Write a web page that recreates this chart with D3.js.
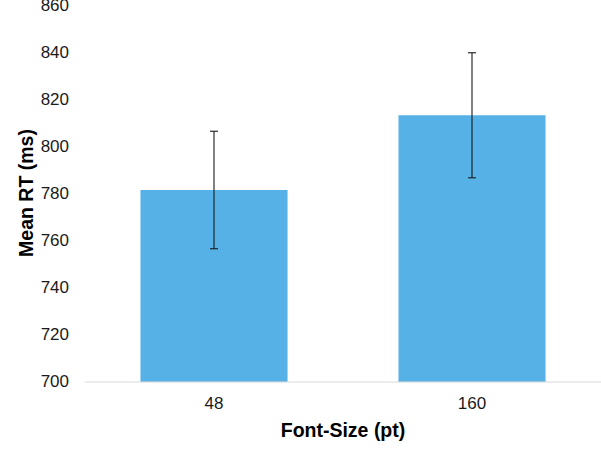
<!DOCTYPE html>
<html>
<head>
<meta charset="utf-8">
<script src="https://cdn.jsdelivr.net/npm/d3@7"></script>
<style>
  html, body { margin: 0; padding: 0; background: #fff; }
  svg { display: block; font-family: "Liberation Sans", Arial, sans-serif; }
</style>
</head>
<body>
<svg id="chart" width="601" height="464"></svg>
<script>
const categories = ["48", "160"];
const meanRT = [781.7, 813.5];
const errorRT = [25.0, 26.6];
const yTicks = [700, 720, 740, 760, 780, 800, 820, 840, 860];

(function () {
const svg = d3.select("#chart");
const plotLeft = 85, plotRight = 601, plotTop = 6, plotBottom = 382;

const x = d3.scaleBand().domain(categories).range([plotLeft, plotRight])
  .paddingInner(0.43).paddingOuter(0.215);
const y = d3.scaleLinear().domain([700, 860]).range([plotBottom, plotTop]);

// bars
svg.selectAll("rect.bar").data(categories).enter().append("rect")
  .attr("class", "bar")
  .attr("x", d => x(d))
  .attr("width", x.bandwidth())
  .attr("y", (d, i) => y(meanRT[i]))
  .attr("height", (d, i) => y(700) - y(meanRT[i]))
  .attr("fill", "#56B1E6");

// x axis line
svg.append("line")
  .attr("x1", plotLeft).attr("x2", plotRight)
  .attr("y1", y(700)).attr("y2", y(700))
  .attr("stroke", "#d9d9d9").attr("stroke-width", 1.2);

// error bars
const eb = svg.selectAll("g.err").data(categories).enter().append("g").attr("class", "err");
eb.append("line")
  .attr("x1", d => x(d) + x.bandwidth() / 2)
  .attr("x2", d => x(d) + x.bandwidth() / 2)
  .attr("y1", (d, i) => y(meanRT[i] + errorRT[i]))
  .attr("y2", (d, i) => y(meanRT[i] - errorRT[i]))
  .attr("stroke", "#1a1a1a").attr("stroke-width", 1.1);
[1, -1].forEach(s => {
  eb.append("line")
    .attr("x1", d => x(d) + x.bandwidth() / 2 - 4)
    .attr("x2", d => x(d) + x.bandwidth() / 2 + 4)
    .attr("y1", (d, i) => y(meanRT[i] + s * errorRT[i]))
    .attr("y2", (d, i) => y(meanRT[i] + s * errorRT[i]))
    .attr("stroke", "#1a1a1a").attr("stroke-width", 1.1);
});

// y axis tick labels
const yAxis = d3.axisLeft(y).tickValues(yTicks).tickSize(0).tickPadding(0);
const gy = svg.append("g").attr("transform", "translate(69,-1)").call(yAxis);
gy.select(".domain").remove();
gy.selectAll("text").attr("font-size", 17).attr("fill", "#1a1a1a")
  .attr("font-family", "Liberation Sans, Arial, sans-serif");

// x axis labels
const xAxis = d3.axisBottom(x).tickSize(0).tickPadding(0);
const gx = svg.append("g").attr("transform", "translate(0,397)").call(xAxis);
gx.select(".domain").remove();
gx.selectAll("text").attr("font-size", 17).attr("fill", "#1a1a1a")
  .attr("font-family", "Liberation Sans, Arial, sans-serif");

// axis titles
svg.append("text")
  .attr("x", 343).attr("y", 437)
  .attr("text-anchor", "middle")
  .attr("font-size", 19.5).attr("font-weight", "bold").attr("fill", "#000")
  .text("Font-Size (pt)");

svg.append("text")
  .attr("transform", "translate(33,193) rotate(-90)")
  .attr("text-anchor", "middle")
  .attr("font-size", 19.5).attr("font-weight", "bold").attr("fill", "#000")
  .text("Mean RT (ms)");
})();
</script>
</body>
</html>
